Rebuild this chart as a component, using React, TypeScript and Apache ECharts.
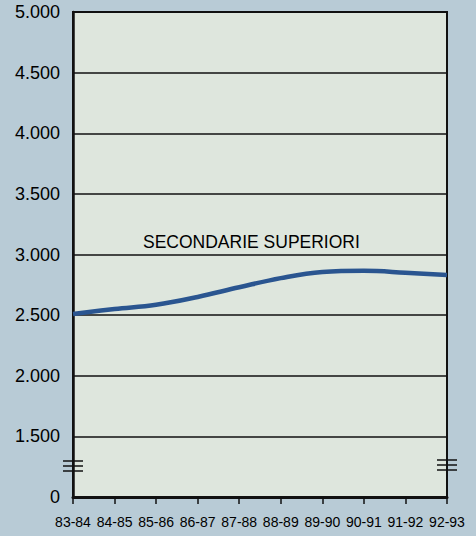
import React, { useEffect, useRef } from "react";
import * as echarts from "echarts";

const categories = ["83-84", "84-85", "85-86", "86-87", "87-88", "88-89", "89-90", "90-91", "91-92", "92-93"];
const values = [2510, 2550, 2585, 2650, 2730, 2805, 2855, 2865, 2850, 2830];
const seriesLabel = "SECONDARIE SUPERIORI";
// Axis is broken below 1.500: the bottom of the axis (internal 1000) is labelled "0"
const axisBreakValue = 1000;
const axisTop = 5000;
const axisStep = 500;

function fmt(v: number): string {
  if (v === axisBreakValue) return "0";
  const s = String(v);
  return s.length > 3 ? s.slice(0, s.length - 3) + "." + s.slice(s.length - 3) : s;
}

export default function App() {
  const ref = useRef<HTMLDivElement>(null);
  useEffect(() => {
    document.body.style.margin = "0";
    const chart = echarts.init(ref.current!, null, { renderer: "svg" });
    const breakLines = (x: number, y: number) =>
      [0, 5, 10].map((d) => ({
        type: "line",
        shape: { x1: x, y1: y + d, x2: x + 20, y2: y + d },
        style: { stroke: "#111", lineWidth: 1.5 },
        z: 100,
      }));
    chart.setOption({
      animation: false,
      backgroundColor: "#b8cbd6",
      grid: {
        left: 73,
        right: 29,
        top: 12,
        bottom: 39,
        show: true,
        backgroundColor: "#dee6dd",
        borderColor: "#111",
        borderWidth: 2,
      },
      xAxis: {
        type: "category",
        data: categories,
        boundaryGap: false,
        axisLine: { show: true, lineStyle: { color: "#111", width: 3 } },
        axisTick: { show: true, alignWithLabel: true, length: 7, lineStyle: { color: "#111", width: 1.5 } },
        axisLabel: {
          color: "#000",
          fontSize: 14,
          fontFamily: "Liberation Sans Narrow, Liberation Sans, Arial, sans-serif",
          margin: 18,
          interval: 0,
        },
        splitLine: { show: false },
      },
      yAxis: {
        type: "value",
        min: axisBreakValue,
        max: axisTop,
        interval: axisStep,
        axisLine: { show: true, lineStyle: { color: "#111", width: 2.5 } },
        axisTick: { show: false },
        axisLabel: {
          color: "#000",
          fontSize: 18,
          fontFamily: "Liberation Sans, Arial, sans-serif",
          margin: 13,
          formatter: (v: number) => fmt(v),
        },
        splitLine: { show: true, lineStyle: { color: "#111", width: 1.5 } },
      },
      series: [
        {
          type: "line",
          data: values,
          smooth: 0.4,
          showSymbol: false,
          lineStyle: { color: "#2a5590", width: 4.5 },
          z: 5,
        },
      ],
      graphic: [
        {
          type: "text",
          left: 143,
          top: 233,
          style: {
            text: seriesLabel,
            fill: "#000",
            fontSize: 17.5,
            fontFamily: "Liberation Sans, Arial, sans-serif",
          },
          z: 100,
        },
        ...breakLines(63, 461),
        ...breakLines(437, 460),
      ],
    });
    return () => chart.dispose();
  }, []);
  return <div ref={ref} style={{ position: "fixed", left: 0, top: 0, width: 476, height: 536 }} />;
}
